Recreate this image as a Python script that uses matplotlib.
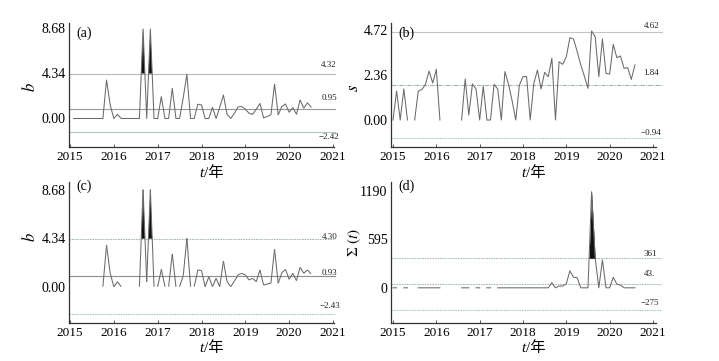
import numpy as np
import matplotlib.pyplot as plt
from matplotlib.collections import LineCollection

plt.rcParams['mathtext.fontset'] = 'stix'
plt.rcParams['font.family'] = ['Liberation Serif', 'Noto Sans CJK SC']

nan = np.nan
years = [2015, 2016, 2017, 2018, 2019, 2020, 2021]

# (a) b, monthly from Jan 2015
b_a = [nan, 0, 0, 0, 0, 0, 0, 0, 0, 0,
       3.7, 1.3, 0, 0.4, 0, 0, 0, 0, 0, 0,
       8.6, 0, 8.6, 0, 0, 2.1, 0, 0, 2.9, 0,
       0, 2.0, 4.25, 0, 0, 1.37, 1.3, 0, 0, 1.08,
       0, 1.1, 2.26, 0.4, 0, 0.5, 1.1, 1.15, 0.9, 0.5,
       0.4, 0.9, 1.45, 0.05, 0.2, 0.35, 3.3, 0.35, 1.15, 1.4,
       0.6, 1.05, 0.4, 1.78, 1.0, 1.5, 1.1]
lines_a = [4.32, 0.95, -1.3]
labels_a = ['4.32', '0.95', '\u22122.42']

# (b) s
s_b = [0, 1.52, 0, 1.63, 0, nan, 0, 1.52, 1.6, 1.87,
       2.57, 1.94, 2.66, 0, nan, nan, nan, nan, nan, 0,
       2.15, 0.26, 1.89, 1.63, 0, 1.78, 0, 0, 1.87, 1.63,
       0, 2.54, 1.87, 1.0, 0, 1.82, 2.28, 2.28, 0, 1.92,
       2.62, 1.63, 2.5, 2.27, 3.24, 0, 3.06, 2.92, 3.32, 4.32,
       4.25, 3.6, 2.9, 2.3, 1.66, 4.67, 4.37, 2.27, 4.25, 2.45,
       2.41, 3.97, 3.27, 3.36, 2.71, 2.75, 2.13, 2.89]
lines_b = [4.62, 1.84, -0.94]
labels_b = ['4.62', '1.84', '\u22120.94']

# (c) b
b_c = [0, 0, 0, 0, 0, 0, 0, 0, 0, 0,
       3.74, 1.2, 0, 0.45, 0, 0, 0, 0, 0, 0,
       8.7, 0.45, 8.7, 0, 0, 1.55, 0, 0, 2.93, 0,
       0, 1.0, 4.33, 0, 0, 1.5, 1.45, 0, 0.9, 0,
       0.75, 0, 2.3, 0.45, 0, 0.5, 1.05, 1.2, 1.05, 0.6,
       0.75, 0.45, 1.5, 0.15, 0.24, 0.3, 3.35, 0.3, 1.25, 1.55,
       0.66, 1.2, 0.54, 1.74, 1.2, 1.5, 1.14]
lines_c = [4.30, 0.93, -2.43]
labels_c = ['4.30', '0.93', '\u22122.43']

# (d) sigma(t)
sig_d = [0, 0, nan, 0, 0, nan, nan, 0, 0, 0,
         0, 0, 0, 0, nan, nan, nan, nan, nan, 0,
         0, 0, nan, 0, 0, nan, 0, 0, nan, 0,
         0, 0, 0, 0, 0, 0, 0, 0, 0, 0,
         0, 0, 0, 0, 62, 0, 22, 22, 50, 209,
         128, 124, 0, 0, 0, 1175, 361, 0, 340, 0,
         0, 128, 46, 33, 0, 0, 0, 0]
lines_d = [361, 43, -275]
labels_d = ['361', '43.', '\u2212275']

W, H = 719, 361
fig = plt.figure(figsize=(W / 100, H / 100), dpi=100)

line_col = '#6a6a6a'
spine_col = '#333333'


def make_ax(left, top, bottom, right, xlim, ylim, yticks, yticklabels):
    ax = fig.add_axes([left / W, (H - bottom) / H, (right - left) / W, (bottom - top) / H])
    for side in ['top', 'right']:
        ax.spines[side].set_visible(False)
    for side in ['left', 'bottom']:
        ax.spines[side].set_color(spine_col)
        ax.spines[side].set_linewidth(0.9)
    ax.set_xlim(*xlim)
    ax.set_ylim(*ylim)
    ax.set_xticks(years)
    ax.set_xticklabels([str(y) for y in years])
    ax.set_yticks(yticks)
    ax.set_yticklabels(yticklabels)
    ax.tick_params(axis='x', direction='in', length=2.5, width=0.6, color=spine_col,
                   labelsize=9.5, pad=3)
    ax.tick_params(axis='y', direction='in', length=0, labelsize=10, pad=2.5)
    return ax


def hlines(ax, vals, labels, styles, x0, x1, lx, offs):
    for v, lab, st, off in zip(vals, labels, styles, offs):
        ax.plot([x0, x1], [v, v], color=st[0], lw=0.8, ls=st[1], clip_on=False, zorder=1)
        ax.annotate(lab, xy=(lx, v), xytext=(0, off), textcoords='offset points',
                    ha='center', va='center', fontsize=6.5, color='#222222')


def xlabel(ax, yax):
    ax.text(0.508, yax, 't', transform=ax.transAxes, ha='right', va='center',
            fontsize=11, style='italic', family='Liberation Serif')
    ax.text(0.508, yax, '/\u5e74', transform=ax.transAxes, ha='left', va='center',
            fontsize=11, family=['Liberation Serif', 'Noto Sans CJK SC'])


# ---------- (a)
ax = make_ax(69, 23, 147, 334, (2014.977, 2021.023), (-2.74, 9.18),
             [0, 4.34, 8.68], ['0.00', '4.34', '8.68'])
t = 2015 + np.arange(len(b_a)) / 12
y = np.array(b_a)
hlines(ax, lines_a, labels_a,
       [('#b4bab4', '-'), ('#9a9a9a', '-'), ('#a9cbbb', '-')],
       2014.977, 2021.05, 2020.91, [6.5, 7.7, -3.4])
ax.plot(t, y, color=line_col, lw=0.75, zorder=3)
ax.fill_between(t, y, lines_a[0], where=np.nan_to_num(y) > lines_a[0], interpolate=True,
                color='#111111', lw=0, zorder=2)
ax.text(0.029, 0.919, '(a)', transform=ax.transAxes, ha='left', va='center', fontsize=10)
ax.set_ylabel('$b$', fontsize=12)
ax.yaxis.set_label_coords(-0.115, 0.484)
xlabel(ax, -0.21)

# ---------- (b)
ax = make_ax(391, 23, 147, 656, (2014.954, 2021.07), (-1.417, 5.09),
             [0, 2.36, 4.72], ['0.00', '2.36', '4.72'])
t = 2015 + np.arange(len(s_b)) / 12
y = np.array(s_b)
hlines(ax, lines_b, labels_b,
       [('#c2c6c2', '-'), ('#9db3a6', (0, (4, 1, 1, 1))), ('#a6d2b4', (0, (1.5, 0.8)))],
       2014.954, 2021.2, 2020.96, [4.3, 8.6, 3.8])
ax.plot(t, y, color=line_col, lw=0.75, zorder=3)
ax.text(0.028, 0.919, '(b)', transform=ax.transAxes, ha='left', va='center', fontsize=10)
ax.set_ylabel('$s$', fontsize=12)
ax.yaxis.set_label_coords(-0.11, 0.476)
xlabel(ax, -0.21)

# ---------- (c)
ax = make_ax(69, 182, 323.3, 334, (2014.977, 2021.023), (-3.28, 9.38),
             [0, 4.34, 8.68], ['0.00', '4.34', '8.68'])
t = 2015 + np.arange(len(b_c)) / 12
y = np.array(b_c)
hlines(ax, lines_c, labels_c,
       [('#a6bcae', (0, (1.5, 0.8))), ('#8e8e8e', '-'), ('#a6cbb6', (0, (1.5, 0.8)))],
       2014.977, 2021.05, 2020.92, [1.0, 2.2, 5.5])
segs = [[(t[k], y[k]), (t[k + 1], y[k + 1])] for k in range(len(y) - 1)
        if not (y[k] == 0 and y[k + 1] == 0)]
ax.add_collection(LineCollection(segs, colors=line_col, linewidths=0.75, zorder=3))
ax.fill_between(t, y, lines_c[0], where=y > lines_c[0], interpolate=True,
                color='#111111', lw=0, zorder=2)
ax.text(0.029, 0.967, '(c)', transform=ax.transAxes, ha='left', va='center', fontsize=10)
ax.set_ylabel('$b$', fontsize=12)
ax.yaxis.set_label_coords(-0.115, 0.613)
xlabel(ax, -0.177)

# ---------- (d)
ax = make_ax(391, 182, 323.3, 656, (2014.954, 2021.07), (-434, 1294),
             [0, 595, 1190], ['0', '595', '1190'])
t = 2015 + np.arange(len(sig_d)) / 12
y = np.array(sig_d)
hlines(ax, lines_d, labels_d,
       [('#a6bcae', (0, (1.5, 0.8))), ('#a6bcae', (0, (1.5, 0.8))), ('#a6d2b4', (0, (1.5, 0.8)))],
       2014.954, 2021.2, 2020.93, [3.1, 7.4, 5.5])
ax.plot(t, y, color=line_col, lw=0.75, zorder=3)
ax.fill_between(t, y, lines_d[0], where=np.nan_to_num(y) > lines_d[0], interpolate=True,
                color='#111111', lw=0, zorder=2)
ax.text(0.028, 0.967, '(d)', transform=ax.transAxes, ha='left', va='center', fontsize=10)
ax.set_ylabel(r'$\Sigma\ (t)$', fontsize=11)
ax.yaxis.set_label_coords(-0.105, 0.568)
xlabel(ax, -0.177)

fig.savefig('out.png', dpi=100)
